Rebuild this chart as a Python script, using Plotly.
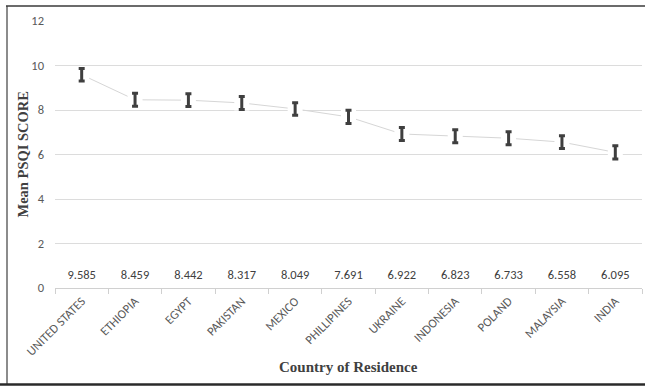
import plotly.graph_objects as go

countries = ["UNITED STATES", "ETHIOPIA", "EGYPT", "PAKISTAN", "MEXICO", "PHILLIPINES",
             "UKRAINE", "INDONESIA", "POLAND", "MALAYSIA", "INDIA"]
means = [9.585, 8.459, 8.442, 8.317, 8.049, 7.691, 6.922, 6.823, 6.733, 6.558, 6.095]
errors = [0.28, 0.29, 0.29, 0.29, 0.28, 0.30, 0.29, 0.29, 0.29, 0.29, 0.30]
mean_labels = [f"{v:.3f}" for v in means]
y_ticks = [0, 2, 4, 6, 8, 10, 12]

W, H = 645, 386
L, R, T, B = 55, 3, 21, 98
pw, ph = W - L - R, H - T - B

def px_x(p):
    return (p - L) / pw

def px_y(p):
    return (H - B - p) / ph

sans = "Carlito, Lato, Arial, sans-serif"
serif = "Liberation Serif, Times New Roman, serif"

fig = go.Figure()

# connecting line with white markers to create gaps around error bars
fig.add_trace(go.Scatter(
    x=countries, y=means, mode="lines+markers",
    line=dict(color="#d6d6d6", width=1),
    marker=dict(symbol="square", size=15, color="white", line=dict(width=0)),
    hoverinfo="skip", showlegend=False,
))

# error bars
fig.add_trace(go.Scatter(
    x=countries, y=means, mode="markers",
    marker=dict(size=1, color="rgba(0,0,0,0)"),
    error_y=dict(type="data", array=errors, visible=True,
                 color="#3f3f3f", thickness=3, width=3),
    showlegend=False,
))

# value labels near the axis
fig.add_trace(go.Scatter(
    x=countries, y=[0.55] * len(countries), mode="text",
    text=mean_labels, textposition="middle center",
    textfont=dict(family=sans, size=12.5, color="#404040"),
    hoverinfo="skip", showlegend=False,
))

fig.update_layout(
    width=W, height=H,
    margin=dict(l=L, r=R, t=T, b=B, autoexpand=False),
    paper_bgcolor="white", plot_bgcolor="white",
    xaxis=dict(
        type="category", tickangle=-45, showgrid=False, automargin=False,
        showline=True, linecolor="#d0d0d0", linewidth=1,
        ticks="outside", tickson="boundaries", ticklen=5, tickcolor="#d0d0d0",
        tickfont=dict(family=sans, size=12.5, color="#595959"),
        range=[-0.5, len(countries) - 0.5],
    ),
    yaxis=dict(
        range=[0, 12], tickvals=y_ticks, showgrid=True, gridcolor="#dcdcdc", gridwidth=1,
        zeroline=False, showline=False, automargin=False,
        tickfont=dict(family=sans, size=12.5, color="#595959"),
        ticklabelstandoff=10,
    ),
    annotations=[
        dict(text="<b>Mean PSQI SCORE</b>", xref="paper", yref="paper",
             x=px_x(22), y=0.5, textangle=-90, showarrow=False,
             font=dict(family=serif, size=14.5, color="#404040"),
             xanchor="center", yanchor="middle"),
        dict(text="<b>Country of Residence</b>", xref="paper", yref="paper",
             x=0.5, y=px_y(367), showarrow=False,
             font=dict(family=serif, size=15, color="#404040"),
             xanchor="center", yanchor="middle"),
    ],
    shapes=[
        dict(type="line", xref="paper", yref="paper", x0=px_x(7), x1=px_x(7),
             y0=px_y(6), y1=px_y(385), line=dict(color="#8c8c8c", width=2)),
        dict(type="line", xref="paper", yref="paper", x0=px_x(6), x1=px_x(645),
             y0=px_y(6), y1=px_y(6), line=dict(color="#3a3a3a", width=1.5)),
        dict(type="line", xref="paper", yref="paper", x0=px_x(0), x1=px_x(645),
             y0=px_y(384.5), y1=px_y(384.5), line=dict(color="#2a2a2a", width=2.5)),
    ],
)

fig.write_html("out.html", config={"displayModeBar": False},
               post_script="document.body.style.margin='0px';")
